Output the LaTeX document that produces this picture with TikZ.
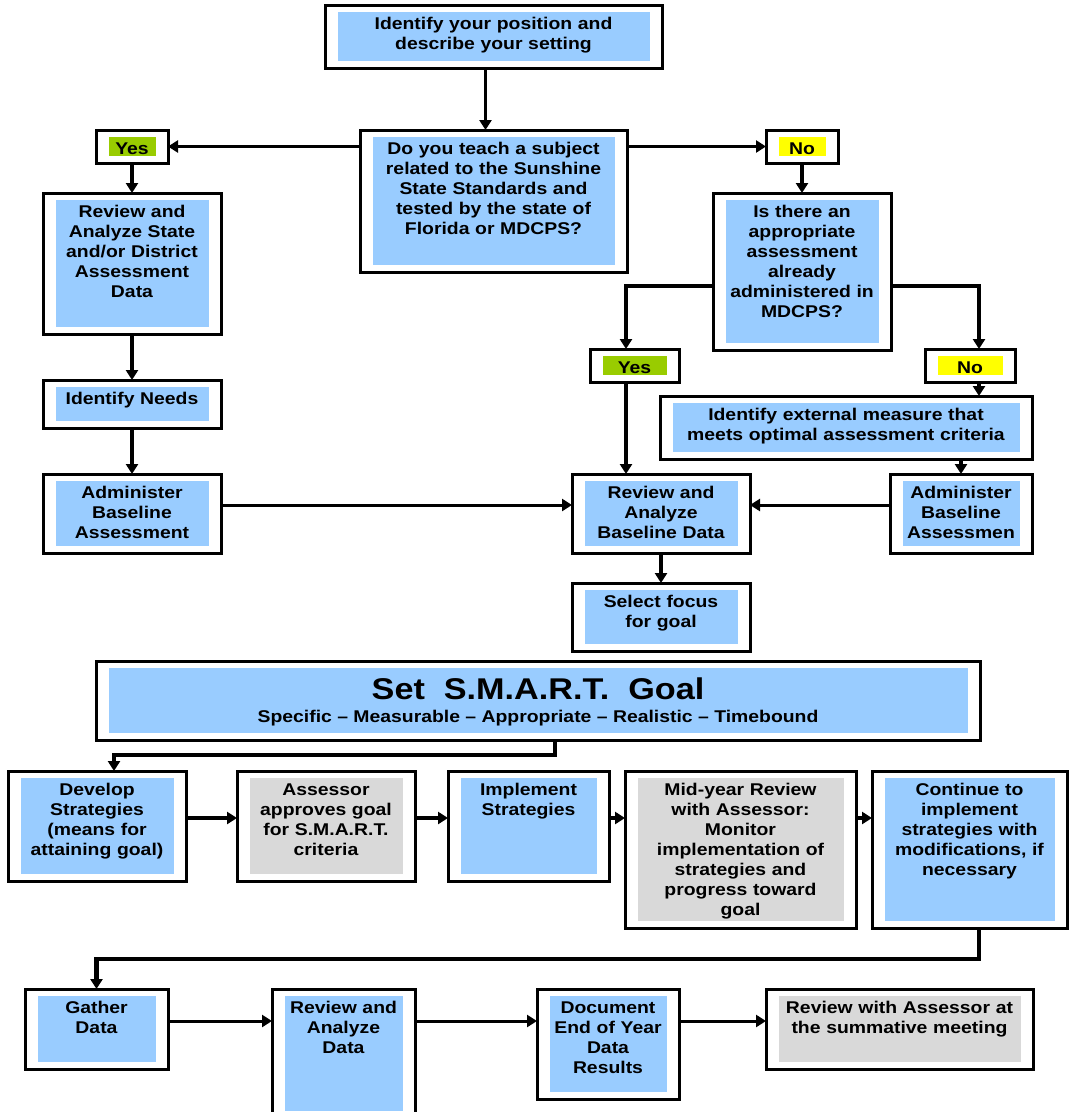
\documentclass[tikz,border=0pt]{standalone}
\usepackage{fontspec}
\setmainfont{Liberation Sans}[FakeStretch=1.14]
\usetikzlibrary{arrows.meta}

\definecolor{boxblue}{HTML}{99CCFF}
\definecolor{boxgray}{HTML}{D9D9D9}
\definecolor{yesgreen}{HTML}{99CC00}
\definecolor{noyellow}{HTML}{FFFF00}

\tikzset{
  outerbox/.style={draw, line width=3pt, fill=white, inner sep=0pt, outer sep=0pt, anchor=north west},
  boxtext/.style={anchor=north, inner sep=0pt, align=center, text height=12.5pt, font=\bfseries\fontsize{17}{20}\selectfont},
  arr/.style={line width=3.5pt, -{Triangle[length=10pt,width=12pt]}},
  thinarr/.style={line width=3pt, -{Triangle[length=10pt,width=12pt]}},
  bendarr/.style={line width=4.5pt, -{Triangle[length=10pt,width=12pt]}}
}

% name, x1, y1, x2, y2, fill, text
\newcommand{\flowbox}[7]{%
  \pgfmathsetmacro{\boxw}{#4-#2}%
  \pgfmathsetmacro{\boxh}{#5-#3}%
  \pgfmathsetmacro{\boxtw}{#4-#2-16}%
  \node[outerbox, minimum width=\boxw pt, minimum height=\boxh pt] (#1) at (#2,#3) {};
  \fill[#6] ([xshift=12.5pt,yshift=-7pt]#1.north west) rectangle ([xshift=-12.5pt,yshift=7pt]#1.south east);
  \node[boxtext, text width=\boxtw pt] (#1-t) at ([yshift=-11.5pt]#1.north) {#7};
}

\begin{document}
\begin{tikzpicture}[x=1pt,y=-1pt]
\useasboundingbox (0,0) rectangle (1071,1112);

% baseline part
\flowbox{ident}{325}{5}{662}{68}{boxblue}{Identify your position and\\describe your setting}
\flowbox{quest}{360}{130}{627}{272}{boxblue}{Do you teach a subject\\related to the Sunshine\\State Standards and\\tested by the state of\\Florida or MDCPS?}
\flowbox{yes}{96}{130}{168}{163}{yesgreen}{Yes}
\flowbox{no}{766}{130}{838}{163}{noyellow}{No}
\flowbox{revstate}{43}{193}{221}{334}{boxblue}{Review and\\Analyze State\\and/or District\\Assessment\\Data}
\flowbox{needs}{43}{380}{221}{428}{boxblue}{Identify Needs}
\flowbox{adminL}{43}{474}{221}{553}{boxblue}{Administer\\Baseline\\Assessment}
\flowbox{isthere}{713}{193}{891}{350}{boxblue}{Is there an\\appropriate\\assessment\\already\\administered in\\MDCPS?}
\flowbox{yes2}{590}{349}{679}{382}{yesgreen}{Yes}
\flowbox{no2}{925}{349}{1015}{382}{noyellow}{No}
\flowbox{ext}{660}{396}{1032}{459}{boxblue}{Identify external measure that\\meets optimal assessment criteria}
\flowbox{adminR}{890}{474}{1032}{553}{boxblue}{Administer\\Baseline\\Assessmen}
\flowbox{revbase}{572}{474}{750}{553}{boxblue}{Review and\\Analyze\\Baseline Data}
\flowbox{focus}{572}{583}{750}{651}{boxblue}{Select focus\\for goal}

% goal
\flowbox{smart}{96}{661}{980}{740}{boxblue}{}
\node[anchor=base, inner sep=0pt, font=\bfseries\fontsize{30}{32}\selectfont] (smart-h) at ([yshift=-38pt]smart.north) {Set\ \ S.M.A.R.T.\ \ Goal};
\node[anchor=base, inner sep=0pt, font=\bfseries\fontsize{17}{20}\selectfont] (smart-s) at ([yshift=-61pt]smart.north) {Specific – Measurable – Appropriate – Realistic – Timebound};

\flowbox{develop}{8}{771}{186}{881}{boxblue}{Develop\\Strategies\\(means for\\attaining goal)}
\flowbox{assessor}{237}{771}{415}{881}{boxgray}{Assessor\\approves goal\\for S.M.A.R.T.\\criteria}
\flowbox{implement}{448}{771}{609}{881}{boxblue}{Implement\\Strategies}
\flowbox{midyear}{625}{771}{856}{928}{boxgray}{Mid-year Review\\with Assessor:\\Monitor\\implementation of\\strategies and\\progress toward\\goal}
\flowbox{continue}{872}{771}{1067}{928}{boxblue}{Continue to\\implement\\strategies with\\modifications, if\\necessary}

% end of year
\flowbox{gather}{25}{989}{168}{1069}{boxblue}{Gather\\Data}
\flowbox{revdata}{272}{989}{415}{1118}{boxblue}{Review and\\Analyze\\Data}
\flowbox{document}{537}{989}{679}{1099}{boxblue}{Document\\End of Year\\Data\\Results}
\flowbox{revassess}{766}{989}{1033}{1069}{boxgray}{Review with Assessor at\\the summative meeting}

% connectors
\draw[arr] ([xshift=-8pt]ident.south) -- ([xshift=-8pt]quest.north);
\draw[thinarr] (quest.west |- yes.east) -- (yes.east);
\draw[thinarr] (quest.east |- no.west) -- (no.west);
\draw[arr] (yes.south) -- (revstate.north);
\draw[arr] (revstate.south) -- (needs.north);
\draw[arr] (needs.south) -- (adminL.north);
\draw[arr] (no.south) -- (isthere.north);

\coordinate (bl) at (626,286);
\coordinate (br) at (979,286);
\draw[bendarr] (isthere.west |- bl) -- (bl) -- (bl |- yes2.north);
\draw[bendarr] (isthere.east |- br) -- (br) -- (br |- no2.north);
\draw[arr] (bl |- yes2.south) -- (bl |- revbase.north);
\draw[arr] (br |- no2.south) -- (br |- ext.north);
\draw[arr] (adminR.north |- ext.south) -- (adminR.north);

\coordinate (rowb) at (0,505);
\draw[thinarr] (adminL.east |- rowb) -- (revbase.west |- rowb);
\draw[thinarr] (adminR.west |- rowb) -- (revbase.east |- rowb);
\draw[arr] (revbase.south) -- (focus.north);

\coordinate (sa) at (555,755);
\coordinate (sb) at (114,755);
\draw[bendarr] (sa |- smart.south) -- (sa) -- (sb) -- (sb |- develop.north);

\coordinate (rowc) at (0,818);
\draw[arr] (develop.east |- rowc) -- (assessor.west |- rowc);
\draw[arr] (assessor.east |- rowc) -- (implement.west |- rowc);
\draw[arr] (implement.east |- rowc) -- (midyear.west |- rowc);
\draw[arr] (midyear.east |- rowc) -- (continue.west |- rowc);

\coordinate (ca) at (979,959);
\coordinate (cb) at (96.5,959);
\draw[bendarr] (ca |- continue.south) -- (ca) -- (cb) -- (cb |- gather.north);

\coordinate (rowd) at (0,1021);
\draw[thinarr] (gather.east |- rowd) -- (revdata.west |- rowd);
\draw[thinarr] (revdata.east |- rowd) -- (document.west |- rowd);
\draw[thinarr] (document.east |- rowd) -- (revassess.west |- rowd);
\end{tikzpicture}
\end{document}
